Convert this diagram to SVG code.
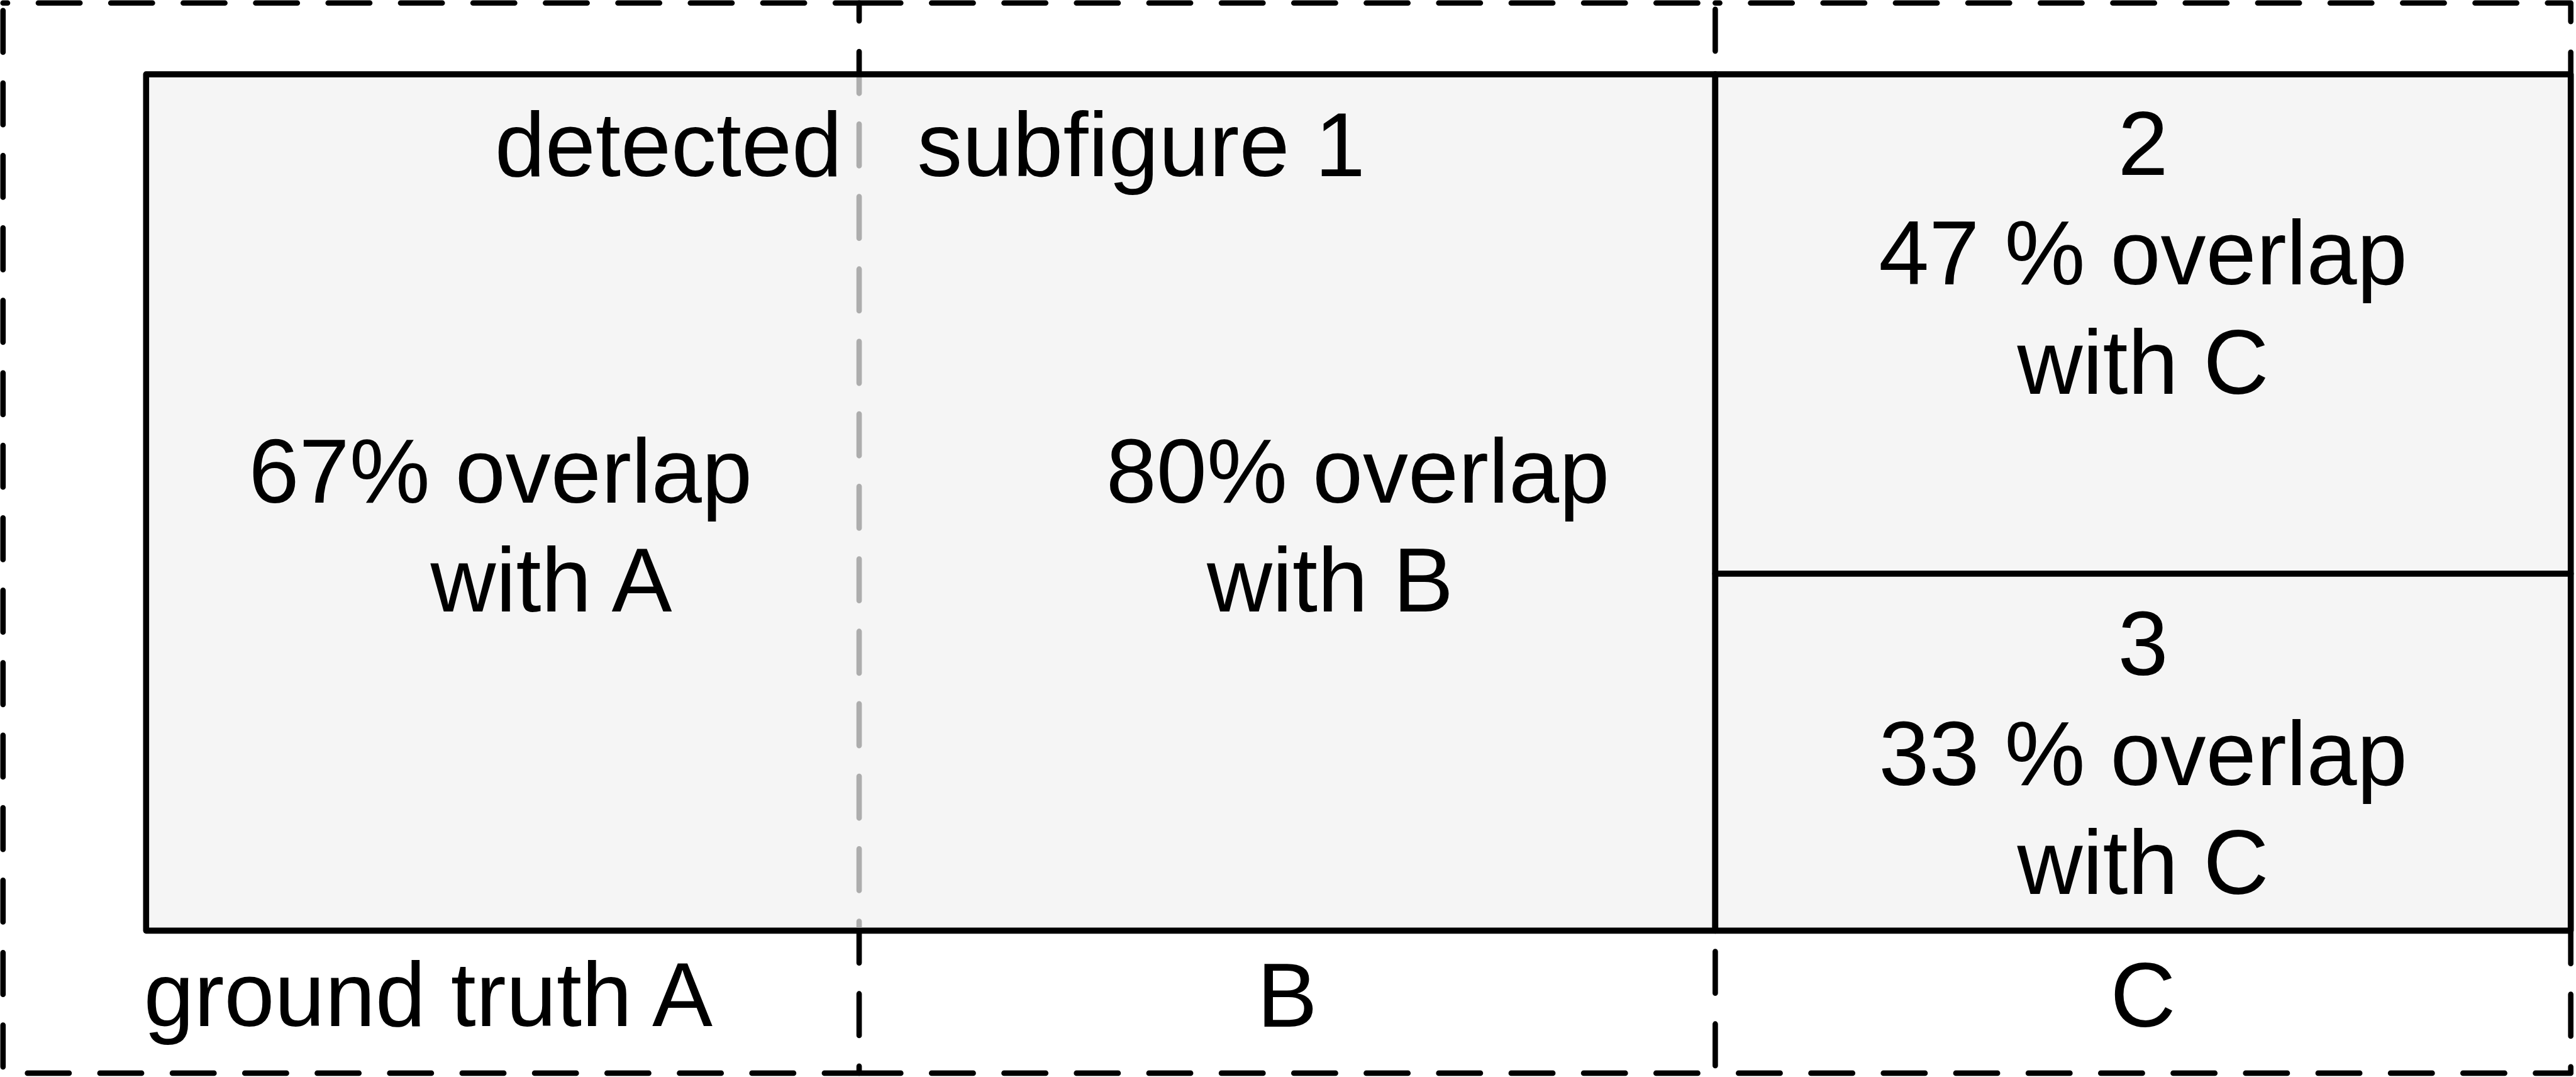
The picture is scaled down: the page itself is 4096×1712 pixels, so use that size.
<svg xmlns="http://www.w3.org/2000/svg" width="4096" height="1712" viewBox="0 0 4096 1712">
  <style>
    .gt { fill: none; stroke: #000; stroke-width: 9; stroke-linecap: round; stroke-linejoin: round; stroke-dasharray: 69 51; }
    .det { fill: #f5f5f5; stroke: #000; stroke-width: 10; stroke-linejoin: round; }
    .ghost { fill: none; stroke: #adadad; stroke-width: 9; stroke-linecap: round; stroke-dasharray: 69 51; }
    .lbl { font-family: "Liberation Sans", Arial, sans-serif; font-size: 150px; fill: #000; }
    .mid { text-anchor: middle; }
    .end { text-anchor: end; }
  </style>
  <defs>
    <clipPath id="box1Inner">
      <rect x="1380" y="128" width="90" height="1408"/>
    </clipPath>
  </defs>
  <rect width="4096" height="1712" fill="#ffffff"/>
  <g transform="scale(0.96)">
    <g id="ground-truth-A">
      <rect class="gt" x="5" y="5" width="1418" height="1772" stroke-dashoffset="61.5"/>
    </g>
    <g id="ground-truth-B">
      <line class="gt" x1="1423" y1="5" x2="2841" y2="5"/>
      <line class="gt" x1="1423" y1="1777" x2="2841" y2="1777"/>
    </g>
    <g id="ground-truth-C">
      <rect class="gt" x="2841" y="5" width="1417" height="1772" stroke-dashoffset="61.5"/>
    </g>

    <g id="detected-1">
      <rect class="det" x="242" y="123" width="2599" height="1418"/>
    </g>
    <g id="detected-2">
      <rect class="det" x="2841" y="123" width="1417" height="827"/>
    </g>
    <g id="detected-3">
      <rect class="det" x="2841" y="950" width="1417" height="591"/>
    </g>

    <g id="connectors">
      <line class="ghost" x1="1423" y1="5" x2="1423" y2="1777" stroke-dashoffset="39.5" clip-path="url(#box1Inner)"/>
    </g>

    <g id="labels">
      <text class="lbl end" x="1395" y="292">detected</text>
      <text class="lbl" x="1519" y="292">subfigure 1</text>
      <text class="lbl" x="412" y="832">67% overlap</text>
      <text class="lbl" x="713" y="1012">with A</text>
      <text class="lbl" x="1832" y="832">80% overlap</text>
      <text class="lbl" x="1999" y="1012">with B</text>
      <text class="lbl mid" x="3549.5" y="290">2</text>
      <text class="lbl mid" x="3549.5" y="471">47 % overlap</text>
      <text class="lbl mid" x="3549.5" y="652">with C</text>
      <text class="lbl mid" x="3549.5" y="1118">3</text>
      <text class="lbl mid" x="3549.5" y="1300">33 % overlap</text>
      <text class="lbl mid" x="3549.5" y="1480">with C</text>
      <text class="lbl" x="238" y="1699">ground truth A</text>
      <text class="lbl mid" x="2132" y="1700">B</text>
      <text class="lbl mid" x="3549.5" y="1700">C</text>
    </g>
  </g>
</svg>
